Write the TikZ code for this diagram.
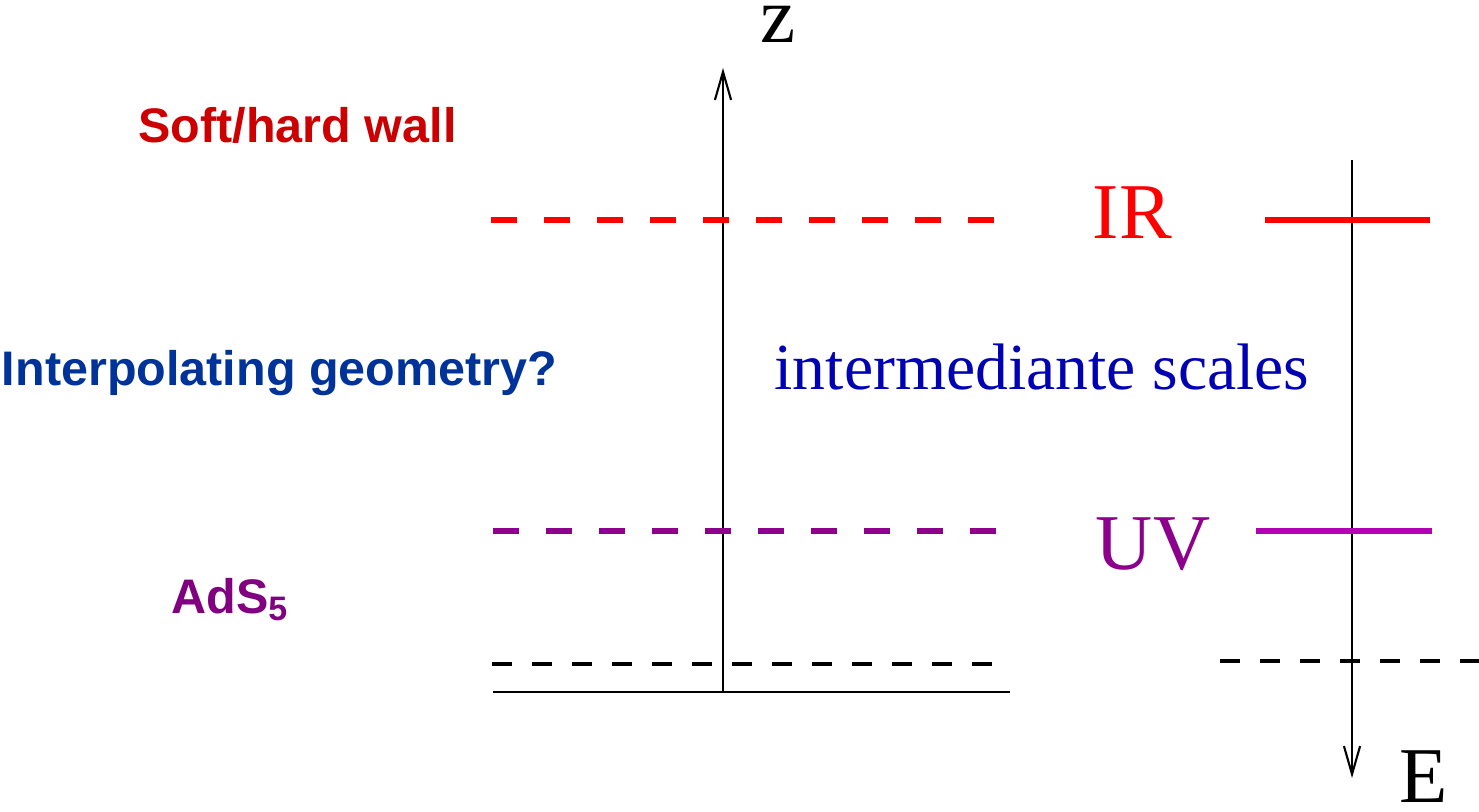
\documentclass[tikz,border=0pt]{standalone}
\usepackage{fontspec}
\setmainfont{Liberation Serif}
\setsansfont{Liberation Sans}
\usepackage{tikz}
\usetikzlibrary{arrows.meta}
\usepackage{xcolor}

\definecolor{wallred}{RGB}{204,0,0}
\definecolor{irred}{RGB}{255,0,0}
\definecolor{uvpurple}{RGB}{140,0,140}
\definecolor{uvmagenta}{RGB}{178,0,178}
\definecolor{adspurple}{RGB}{128,0,128}
\definecolor{geoblue}{RGB}{0,51,153}
\definecolor{midblue}{RGB}{0,0,180}

\tikzset{
    axisline/.style={line width=0.6pt, -{Straight Barb[length=8pt,width=4.6pt]}},
    scalelabel/.style={anchor=base, font=\fontsize{22.5}{27}\selectfont},
    sidelabel/.style={anchor=base, font=\fontsize{13.8}{16}\selectfont\sffamily\bfseries},
    walldash/.style={line width=1.9pt, dash pattern=on 0.26cm off 0.27cm},
    walllevel/.style={line width=1.9pt},
    cutdash/.style={line width=1pt, dash pattern=on 0.2cm off 0.2cm}
}

\begin{document}
\begin{tikzpicture}

\useasboundingbox (0,0) rectangle (14.79,8.11);

% holographic direction z
\coordinate (zbot) at (7.23,1.19);
\coordinate (ztop) at (7.23,7.43);
\draw[axisline] (zbot) -- (ztop);
\node[scalelabel] (zlabel) at (7.785,7.68) {z};

% energy direction E
\coordinate (etop) at (13.52,6.51);
\coordinate (ebot) at (13.52,0.33);
\draw[axisline] (etop) -- (ebot);
\node[scalelabel] (elabel) at (14.235,0.09) {E};

% IR wall
\coordinate (irl) at (4.91,5.91);
\coordinate (irr) at (9.94,5.91);
\draw[walldash, irred] (irl) -- (irr);
\node[scalelabel, text=irred] (ir) at (11.325,5.72) {IR};
\coordinate (irel) at (12.65,5.91);
\coordinate (irer) at (14.30,5.91);
\draw[walllevel, irred] (irel) -- (irer);

% UV boundary
\coordinate (uvl) at (4.93,2.80);
\coordinate (uvr) at (9.96,2.80);
\draw[walldash, uvpurple] (uvl) -- (uvr);
\node[scalelabel, text=uvpurple] (uv) at (11.53,2.42) {UV};
\coordinate (uvel) at (12.56,2.80);
\coordinate (uver) at (14.32,2.80);
\draw[walllevel, uvmagenta] (uvel) -- (uver);

% cut-off
\coordinate (cutl) at (4.92,1.47);
\coordinate (cutr) at (9.92,1.47);
\draw[cutdash] (cutl) -- (cutr);
\coordinate (cutel) at (12.20,1.50);
\coordinate (cuter) at (14.79,1.50);
\draw[cutdash] (cutel) -- (cuter);
\coordinate (basel) at (4.93,1.19);
\coordinate (baser) at (10.10,1.19);
\draw[line width=0.7pt] (basel) -- (baser);

\node[anchor=base, text=midblue, font=\fontsize{18.7}{22}\selectfont] (mid) at (10.42,4.21)
{intermediante scales};

\node[sidelabel, text=wallred] (wall) at (2.975,6.68) {Soft/hard wall};
\node[sidelabel, text=geoblue] (interp) at (2.795,4.25) {Interpolating geometry?};
\node[sidelabel, anchor=base west, text=adspurple] (ads) at (1.59,1.98) {AdS\textsubscript{5}};

\end{tikzpicture}
\end{document}
